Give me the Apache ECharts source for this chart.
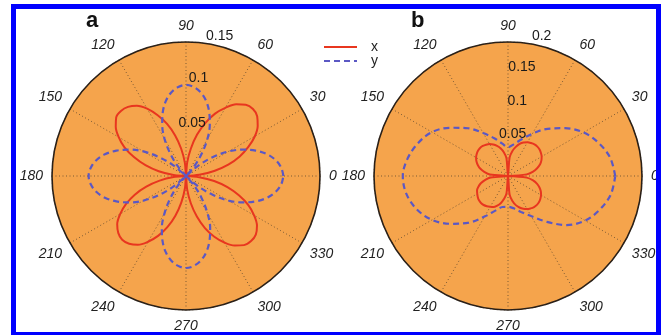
<!DOCTYPE html>
<html>
<head>
<meta charset="utf-8">
<script src="https://cdn.jsdelivr.net/npm/echarts@6/dist/echarts.min.js"></script>
<style>html,body{margin:0;padding:0;background:#fff;}#c{width:662px;height:335px;}</style>
</head>
<body>
<div id="c"></div>
<script>
// ---- data ----
var panelLabels = ['a', 'b'];
var seriesNames = ['x', 'y'];
var angleTicks = [0, 30, 60, 90, 120, 150, 180, 210, 240, 270, 300, 330];
var radiusTicksA = [0.05, 0.1, 0.15];
var radiusTicksB = [0.05, 0.1, 0.15, 0.2];
var radiusMaxA = 0.15;
var radiusMaxB = 0.2;

var angles5 = [0,5,10,15,20,25,30,35,40,45,50,55,60,65,70,75,80,85,
  90,95,100,105,110,115,120,125,130,135,140,145,150,155,160,165,170,175,
  180,185,190,195,200,205,210,215,220,225,230,235,240,245,250,255,260,265,
  270,275,280,285,290,295,300,305,310,315,320,325,330,335,340,345,350,355,360];
var angles10 = [0,10,20,30,40,50,60,70,80,90,100,110,120,130,140,150,160,170,
  180,190,200,210,220,230,240,250,260,270,280,290,300,310,320,330,340,350,360];

// panel a, x (red, solid)
var aX = [0,0.015,0.032,0.049,0.064,0.077,0.089,0.098,0.104,0.106,0.104,0.098,0.088,0.077,0.063,0.048,0.031,0.015,
  0,0.015,0.031,0.047,0.062,0.075,0.087,0.096,0.101,0.103,0.102,0.096,0.087,0.076,0.062,0.047,0.031,0.014,
  0,0.014,0.030,0.046,0.061,0.074,0.085,0.094,0.099,0.101,0.099,0.094,0.085,0.074,0.061,0.046,0.030,0.014,
  0,0.015,0.031,0.047,0.062,0.075,0.086,0.095,0.101,0.103,0.102,0.097,0.088,0.077,0.063,0.048,0.032,0.015,0];
// panel a, y (blue, dashed)
var aY = [0.109,0.107,0.102,0.094,0.083,0.070,0.055,0.037,0.019,0,0.015,0.031,0.048,0.063,0.076,0.087,0.095,0.100,
  0.102,0.100,0.095,0.087,0.076,0.063,0.048,0.031,0.015,0,0.019,0.037,0.055,0.070,0.083,0.094,0.102,0.107,
  0.109,0.107,0.102,0.094,0.083,0.070,0.055,0.037,0.019,0,0.015,0.031,0.048,0.064,0.077,0.088,0.096,0.101,
  0.103,0.101,0.096,0.088,0.077,0.064,0.048,0.031,0.015,0,0.019,0.037,0.055,0.070,0.083,0.094,0.102,0.107,0.109];
// panel b, x (red, solid)
var bX = [0,0.028,0.038,0.045,0.051,0.055,0.058,0.060,0.0615,0.062,0.0615,0.060,0.058,0.055,0.051,0.045,0.038,0.028,
  0,0.027,0.036,0.043,0.048,0.052,0.055,0.057,0.0585,0.059,0.0585,0.057,0.055,0.052,0.048,0.043,0.036,0.027,
  0,0.026,0.035,0.042,0.047,0.051,0.053,0.055,0.0565,0.057,0.0565,0.055,0.053,0.051,0.047,0.042,0.035,0.026,
  0,0.028,0.038,0.045,0.050,0.054,0.057,0.059,0.0605,0.061,0.0605,0.059,0.057,0.054,0.050,0.045,0.038,0.028,0];
// panel b, y (blue, dashed)
var bY = [0.160,0.155,0.144,0.130,0.111,0.092,0.073,0.058,0.048,0.043,0.049,0.060,0.074,0.093,0.112,0.131,0.143,0.152,
  0.157,0.154,0.145,0.131,0.111,0.091,0.070,0.055,0.047,0.046,0.049,0.057,0.069,0.089,0.114,0.133,0.146,0.156,0.160];

// ---- styles ----
var ORANGE = '#F5A44C';
var GRID = '#6e5232';
var RED = '#E8361F';
var BLUE = '#5B58C4';
var FONT = '"Liberation Sans", Arial, Helvetica, sans-serif';
var R = 134;
var centers = [[186, 176], [508, 176]];
var labelAngle = 82;

function pairs(vals, angs) { return vals.map(function (v, i) { return [v, angs[i]]; }); }

function polarAxes(idx, rmax) {
  return {
    angle: {
      polarIndex: idx, type: 'value', min: 0, max: 360, interval: 30,
      startAngle: 0, clockwise: false,
      axisLine: { show: true, lineStyle: { color: '#2a2018', width: 1.6 } },
      axisTick: { show: false },
      axisLabel: { show: true, margin: 9, fontStyle: 'italic', fontSize: 14, color: '#222', fontFamily: FONT },
      splitLine: { show: true, lineStyle: { color: GRID, type: [1, 2.5], width: 1, opacity: 0.9 } },
      splitArea: { show: false }
    },
    radius: {
      polarIndex: idx, type: 'value', min: 0, max: rmax, interval: 0.05,
      axisLine: { show: false }, axisTick: { show: false }, axisLabel: { show: false },
      splitLine: { show: true, lineStyle: { color: GRID, type: [1, 2.5], width: 1, opacity: 0.8 } },
      splitArea: { show: true, areaStyle: { color: [ORANGE] } }
    }
  };
}
var pa = polarAxes(0, radiusMaxA), pb = polarAxes(1, radiusMaxB);

function tickLabelSeries(idx, ticks) {
  return {
    type: 'scatter', coordinateSystem: 'polar', polarIndex: idx,
    symbolSize: 0, silent: true, z: 5,
    itemStyle: { opacity: 1 },
    data: ticks.map(function (t, i) {
      var last = i === ticks.length - 1;
      return { value: [t, labelAngle], label: { offset: last ? [15, 2] : [0, 0] } };
    }),
    label: {
      show: true, position: 'top', distance: 2, fontSize: 14, color: '#1a1a1a', opacity: 1, fontFamily: FONT,
      formatter: function (p) { return String(p.value[0]); }
    }
  };
}

function curve(name, idx, vals, angs, color, dashed) {
  return {
    name: name, type: 'line', coordinateSystem: 'polar', polarIndex: idx,
    data: pairs(vals, angs), symbol: 'none', smooth: 0.35, z: 3,
    lineStyle: { color: color, width: dashed ? 2.2 : 2, type: dashed ? [6, 4] : 'solid' },
    itemStyle: { color: color }
  };
}

var chart = echarts.init(document.getElementById('c'), null, { renderer: 'canvas' });
chart.setOption({
  animation: false,
  backgroundColor: '#ffffff',
  polar: [
    { center: centers[0], radius: R },
    { center: centers[1], radius: R }
  ],
  angleAxis: [pa.angle, pb.angle],
  radiusAxis: [pa.radius, pb.radius],
  legend: {
    data: seriesNames, orient: 'vertical', left: 323, top: 40,
    itemWidth: 33, itemHeight: 14, itemGap: 0, padding: 0,
    itemStyle: { opacity: 0, borderWidth: 0 },
    textStyle: { fontSize: 14, color: '#222', fontFamily: FONT, padding: [0, 0, 0, 9] }
  },
  graphic: [
    { type: 'rect', shape: { x: 13.5, y: 6.5, width: 645, height: 328 }, style: { fill: null, stroke: '#0000FF', lineWidth: 5 }, z: 10 },
    { type: 'text', left: 86, top: 10, style: { text: panelLabels[0], font: 'bold 22px ' + FONT, fill: '#111' } },
    { type: 'text', left: 411, top: 10, style: { text: panelLabels[1], font: 'bold 22px ' + FONT, fill: '#111' } }
  ],
  series: [
    curve(seriesNames[0], 0, aX, angles5, RED, false),
    curve(seriesNames[1], 0, aY, angles5, BLUE, true),
    curve(seriesNames[0], 1, bX, angles5, RED, false),
    curve(seriesNames[1], 1, bY, angles10, BLUE, true),
    tickLabelSeries(0, radiusTicksA),
    tickLabelSeries(1, radiusTicksB)
  ]
});
</script>
</body>
</html>
